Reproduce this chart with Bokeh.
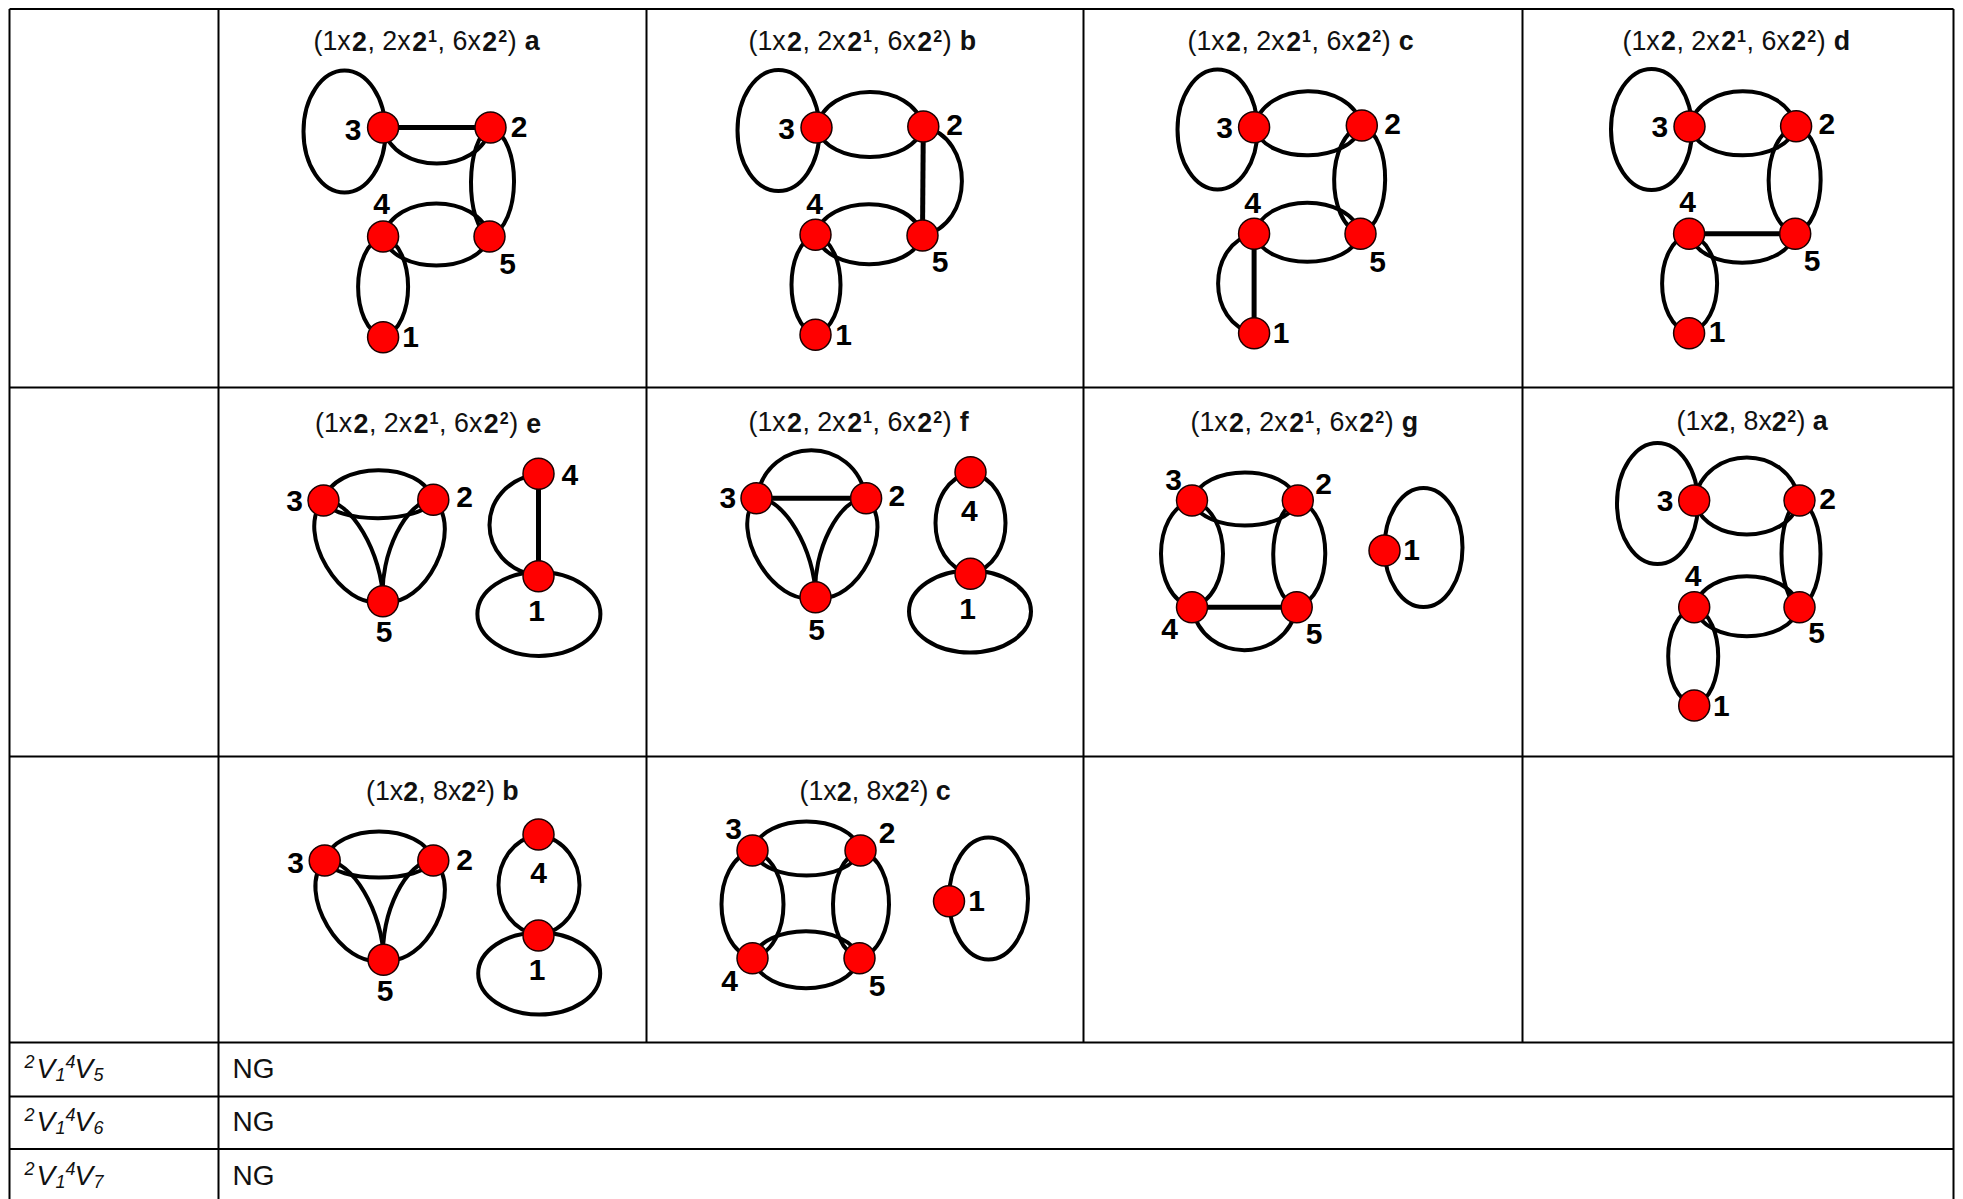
from bokeh.plotting import figure
from bokeh.models import Range1d
from bokeh.core.properties import value
from bokeh.embed import file_html
from bokeh.resources import INLINE

FONT = "Liberation Sans"

# table rules (page pixels)
col_x = [9, 218, 646, 1083, 1522, 1953]
row_y = [8.5, 387, 756, 1042, 1096, 1148.5]
page_bottom = 1199

row_names = [("2", "1", "4", "5"), ("2", "1", "4", "6"), ("2", "1", "4", "7")]
row_text = ["NG", "NG", "NG"]
row_base = [1077.5, 1130.5, 1184.5]

# panel captions: (prefix groups, letter, left, baseline)
cap_long = [("(1x", "n"), ("2", "b"), (", 2x", "n"), ("2", "b"), ("1", "s"), (", 6x", "n"), ("2", "b"), ("2", "s"), (")", "n"), (" ", "n")]
cap_short = [("(1x", "n"), ("2", "b"), (", 8x", "n"), ("2", "b"), ("2", "s"), (")", "n"), (" ", "n")]
captions = [
    (cap_long, "a", 313, 50), (cap_long, "b", 748, 50), (cap_long, "c", 1187, 50), (cap_long, "d", 1622, 49.5),
    (cap_long, "e", 314.5, 432), (cap_long, "f", 748, 431), (cap_long, "g", 1190, 431), (cap_short, "a", 1676, 430),
    (cap_short, "b", 365.5, 800), (cap_short, "c", 799, 800),
]

# graph panels: nodes, edges (from, to, bulge, optional skew; bulge 0 = straight), loops, number labels
a_nodes = {1: (382.6, 336.7), 2: (490, 127), 3: (382.6, 127), 4: (382.6, 236), 5: (489, 236)}
a_edges = [(3, 2, 0), (3, 2, -36), (2, 5, -19), (2, 5, 24), (4, 5, 33), (4, 5, -29), (4, 1, -25), (4, 1, 25)]
a_loop = (344, 131, 82, 122)
a_labels = {1: (410, 336), 2: (518.5, 126), 3: (352.7, 129), 4: (381, 203), 5: (507, 263)}

b_nodes = {1: (815, 334.3), 2: (922.8, 126), 3: (816, 127), 4: (815, 234.3), 5: (922, 235)}
b_edges = [(3, 2, 35), (3, 2, -30), (2, 5, 0), (2, 5, 39), (4, 5, 31), (4, 5, -29), (4, 1, -24), (4, 1, 25)]
b_loop = (778, 130, 82, 121)
b_labels = {1: (843, 334), 2: (954, 124), 3: (786, 128), 4: (814, 203), 5: (939.7, 261.7)}

c_nodes = {1: (1253.6, 332.7), 2: (1361.3, 125), 3: (1253.6, 126.7), 4: (1253.6, 233.3), 5: (1360, 233.3)}
c_edges = [(3, 2, 35), (3, 2, -29), (2, 5, -27), (2, 5, 24), (4, 5, 31), (4, 5, -28), (4, 1, 0), (4, 1, -36)]
c_loop = (1217, 129, 80, 120)
c_labels = {1: (1280.6, 332), 2: (1392, 123), 3: (1224, 127), 4: (1252, 202), 5: (1377, 261)}

d_nodes = {1: (1688.6, 332.7), 2: (1795.6, 125.7), 3: (1689, 126), 4: (1688.6, 233.3), 5: (1794.7, 233.3)}
d_edges = [(3, 2, 35), (3, 2, -29), (2, 5, -27), (2, 5, 25), (4, 5, 0), (4, 5, -29), (4, 1, -27), (4, 1, 28)]
d_loop = (1651, 129, 81, 121)
d_labels = {1: (1716.5, 331.7), 2: (1826.4, 123.3), 3: (1659.4, 126.7), 4: (1687, 201.7), 5: (1811.6, 260.7)}

e_nodes = {1: (538, 575.7), 2: (432.8, 499.3), 3: (323, 500), 4: (538, 473.3), 5: (382.4, 600.7)}
e_edges = [(3, 2, 30), (3, 2, -18), (3, 5, -31), (3, 5, 18, .35), (2, 5, 31), (2, 5, -18, .35), (4, 1, 0), (4, 1, -49)]
e_loop = (538.4, 613.5, 123, 84)
e_labels = {1: (536, 610), 2: (464, 496), 3: (294, 500.7), 4: (569.4, 474), 5: (383.5, 631.7)}

f_nodes = {1: (970, 573.3), 2: (865.6, 497.7), 3: (756, 497.7), 4: (970, 471.7), 5: (815, 596.7)}
f_edges = [(3, 2, 0), (3, 2, 48), (3, 5, -31), (3, 5, 18, .35), (2, 5, 31), (2, 5, -18, .35), (4, 1, -35), (4, 1, 35)]
f_loop = (969.5, 611, 122, 82)
f_labels = {1: (967, 608.3), 2: (896.4, 495), 3: (727.4, 497), 4: (968.8, 510), 5: (816, 629.3)}

g_nodes = {1: (1384, 550), 2: (1297.3, 500), 3: (1191.5, 500), 4: (1191.5, 606.7), 5: (1296.2, 606.7)}
g_edges = [(3, 2, 28), (3, 2, -25), (3, 4, -31), (3, 4, 31), (2, 5, -24), (2, 5, 28), (4, 5, 0), (4, 5, -43)]
g_loop = (1423, 547, 78, 119)
g_labels = {1: (1411, 549), 2: (1323, 483.3), 3: (1173, 479), 4: (1169, 628.3), 5: (1313.7, 633.3)}

h_nodes = {1: (1693.7, 705), 2: (1799, 500), 3: (1693.7, 500), 4: (1693.7, 606.7), 5: (1799, 606.7)}
h_edges = [(3, 2, 43), (3, 2, -34), (2, 5, -18), (2, 5, 21), (4, 5, 31), (4, 5, -29), (4, 1, -26), (4, 1, 24)]
h_loop = (1657, 503, 81, 121)
h_labels = {1: (1720.8, 705), 2: (1827, 498.3), 3: (1664.5, 500.7), 4: (1692.6, 575.7), 5: (1816, 632.3)}

i_nodes = {1: (538, 935), 2: (432.8, 860), 3: (324.2, 860), 4: (538, 834), 5: (383, 959.3)}
i_edges = [(3, 2, 29), (3, 2, -17), (3, 5, -31), (3, 5, 18, .35), (2, 5, 31), (2, 5, -18, .35), (4, 1, -40), (4, 1, 41)]
i_loop = (538.7, 973, 122, 82)
i_labels = {1: (536.5, 969.3), 2: (464, 859), 3: (295, 862), 4: (538, 872.3), 5: (384.6, 990.7)}

j_nodes = {1: (948.5, 900.7), 2: (860, 850), 3: (752, 850), 4: (752, 957.7), 5: (859, 957.7)}
j_edges = [(3, 2, 29), (3, 2, -25), (3, 4, -31), (3, 4, 31), (2, 5, -27), (2, 5, 29), (4, 5, 27), (4, 5, -30)]
j_loop = (988, 898, 79, 122)
j_labels = {1: (976, 900.7), 2: (886.5, 832), 3: (733, 828), 4: (729, 980.7), 5: (876.6, 985.7)}

panels = [
    (a_nodes, a_edges, a_loop, a_labels), (b_nodes, b_edges, b_loop, b_labels),
    (c_nodes, c_edges, c_loop, c_labels), (d_nodes, d_edges, d_loop, d_labels),
    (e_nodes, e_edges, e_loop, e_labels), (f_nodes, f_edges, f_loop, f_labels),
    (g_nodes, g_edges, g_loop, g_labels), (h_nodes, h_edges, h_loop, h_labels),
    (i_nodes, i_edges, i_loop, i_labels), (j_nodes, j_edges, j_loop, j_labels),
]

p = figure(width=1963, height=1199, output_backend="svg", toolbar_location=None,
           x_range=Range1d(0, 1963), y_range=Range1d(1199, 0), min_border=0)
p.axis.visible = False
p.grid.visible = False
p.outline_line_color = None

# --- table rules
xs0, ys0, xs1, ys1 = [], [], [], []
for y in row_y:
    xs0.append(col_x[0]); xs1.append(col_x[-1]); ys0.append(y); ys1.append(y)
for i, x in enumerate(col_x):
    full = i in (0, 1, 5)
    xs0.append(x); xs1.append(x); ys0.append(row_y[0]); ys1.append(page_bottom if full else row_y[3])
p.segment(xs0, ys0, xs1, ys1, line_color="black", line_width=2)

# --- edges and loops
bx0, by0, bx1, by1, cx0, cy0, cx1, cy1 = [], [], [], [], [], [], [], []
sx0, sy0, sx1, sy1 = [], [], [], []
lx, ly, lw, lh = [], [], [], []
nx, ny = [], []
tx, ty, tt = [], [], []
for nodes, edges, loop, labels in panels:
    for edge in edges:
        a, b, h = edge[:3]
        t2 = edge[3] if len(edge) > 3 else 0.1
        (x0, y0), (x1, y1) = nodes[a], nodes[b]
        if h == 0:
            sx0.append(x0); sy0.append(y0); sx1.append(x1); sy1.append(y1)
            continue
        dx, dy = x1 - x0, y1 - y0
        L = (dx * dx + dy * dy) ** 0.5
        ox, oy = dy / L * h * 4 / 3, -dx / L * h * 4 / 3
        t = 0.1
        bx0.append(x0); by0.append(y0); bx1.append(x1); by1.append(y1)
        cx0.append(x0 + t * dx + ox); cy0.append(y0 + t * dy + oy)
        cx1.append(x1 - t2 * dx + ox); cy1.append(y1 - t2 * dy + oy)
    lx.append(loop[0]); ly.append(loop[1]); lw.append(loop[2]); lh.append(loop[3])
    for k in nodes:
        nx.append(nodes[k][0]); ny.append(nodes[k][1])
        tx.append(labels[k][0]); ty.append(labels[k][1]); tt.append(str(k))

p.ellipse(lx, ly, width=lw, height=lh, fill_color=None, line_color="black", line_width=4)
p.bezier(bx0, by0, bx1, by1, cx0, cy0, cx1, cy1, line_color="black", line_width=4)
p.segment(sx0, sy0, sx1, sy1, line_color="black", line_width=5)
p.ellipse(nx, ny, width=31, height=31, fill_color="#ff0000", line_color="#1a0000", line_width=1.5)
p.text(tx, ty, text=tt, text_font=value(FONT), text_font_style="bold", text_font_size="30px",
       text_align="center", text_baseline="middle", text_color="black")

# --- captions, built from text runs
CAP = 26.8
SUP = 0.6
ADV = {"(": .333, ")": .333, ",": .278, " ": .278, "x": .5, "1": .556, "2": .556, "6": .556, "8": .556}
ADVB = {"a": .556, "b": .611, "c": .556, "d": .611, "e": .556, "f": .333, "g": .611, "1": .556, "2": .556}
runs = {"n": ([], [], []), "b": ([], [], []), "s": ([], [], [])}
for segs, letter, left, base in captions:
    x = left
    mid = base - 9.5
    stretch = 1.035 if segs is cap_long else 1.0
    for s, kind in segs:
        if kind == "n":
            runs["n"][0].append(x); runs["n"][1].append(mid); runs["n"][2].append(s)
            x += sum(ADV[c] for c in s) * CAP * stretch
        elif kind == "b":
            runs["b"][0].append(x); runs["b"][1].append(mid); runs["b"][2].append(s)
            x += ADVB[s] * CAP * stretch
        else:
            runs["s"][0].append(x + 0.5); runs["s"][1].append(mid - 5); runs["s"][2].append(s)
            x += ADVB[s] * CAP * 0.65 * stretch
    runs["b"][0].append(x); runs["b"][1].append(mid); runs["b"][2].append(letter)

for kind, style, size in (("n", "normal", CAP), ("b", "bold", CAP), ("s", "bold", CAP * SUP)):
    xs, ys, ts = runs[kind]
    p.text(xs, ys, text=ts, text_font=value(FONT), text_font_style=style, text_font_size=f"{size}px",
           text_align="left", text_baseline="middle", text_color="#111111")

# --- bottom rows
big_x, big_y, big_t, sm_x, sm_y, sm_t = [], [], [], [], [], []
for (a, b, c, d), base in zip(row_names, row_base):
    sm_x += [24, 55, 65, 93]
    sm_y += [base - 17, base - 4, base - 17, base - 4]
    sm_t += [a, b, c, d]
    big_x += [36, 74]
    big_y += [base - 10, base - 10]
    big_t += ["V", "V"]
p.text(big_x, big_y, text=big_t, text_font=value(FONT), text_font_style="italic", text_font_size="28px",
       text_align="left", text_baseline="middle", text_color="#111111")
p.text(sm_x, sm_y, text=sm_t, text_font=value(FONT), text_font_style="italic", text_font_size="18px",
       text_align="left", text_baseline="middle", text_color="#111111")
p.text([232] * len(row_text), [b - 10 for b in row_base], text=row_text, text_font=value(FONT), text_font_size="28px",
       text_align="left", text_baseline="middle", text_color="#111111")

open("out.html", "w").write(file_html(p, INLINE))
